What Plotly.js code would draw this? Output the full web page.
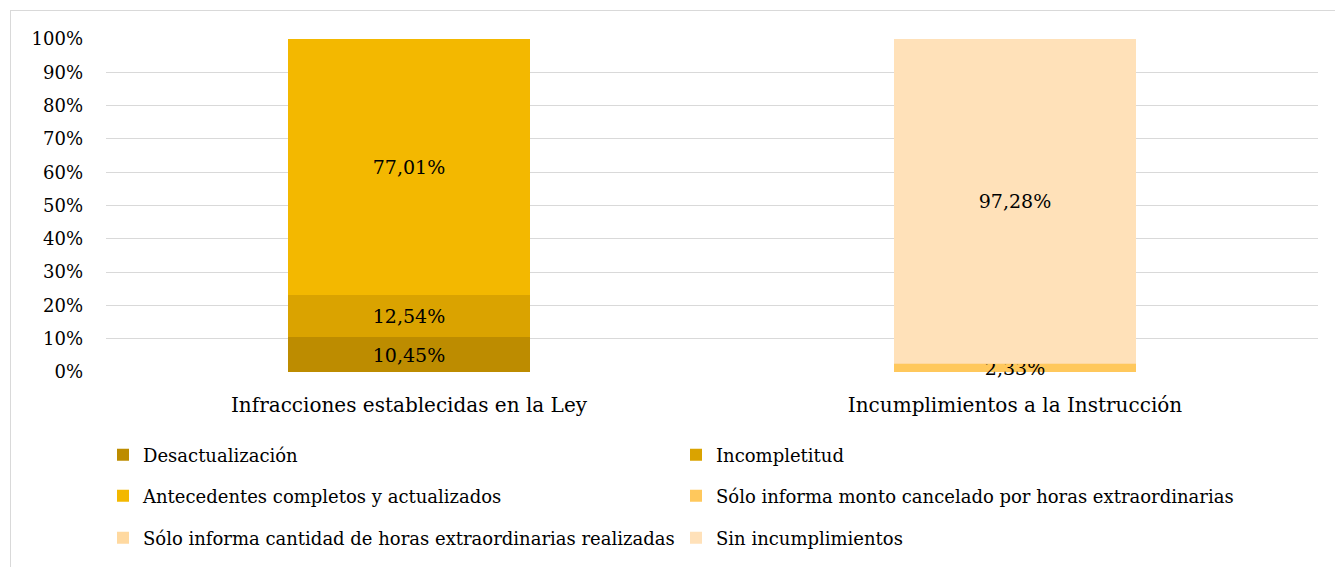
<!DOCTYPE html>
<html>
<head>
<meta charset="utf-8">
<script src="https://cdn.plot.ly/plotly-3.0.1.min.js"></script>
<style>
html,body{margin:0;padding:0;background:#fff;overflow:hidden;}
#wrap{position:relative;width:1335px;height:567px;}
#chart{position:absolute;left:0;top:0;width:1335px;height:567px;}
#frame{position:absolute;left:10px;top:10px;width:1340px;height:600px;border:1px solid #d9d9d9;pointer-events:none;}
</style>
</head>
<body>
<div id="wrap"><div id="chart"></div><div id="frame"></div></div>
<script>
var categories = ["Infracciones establecidas en la Ley", "Incumplimientos a la Instrucción"];
var seriesNames = [
  "Desactualización",
  "Incompletitud",
  "Antecedentes completos y actualizados",
  "Sólo informa monto cancelado por horas extraordinarias",
  "Sólo informa cantidad de horas extraordinarias realizadas",
  "Sin incumplimientos"
];
var desactualizacion = [10.45, null];
var incompletitud = [12.54, null];
var antecedentes = [77.01, null];
var soloMonto = [null, 2.33];
var soloCantidad = [null, 0.39];
var sinIncumplimientos = [null, 97.28];
var showLabel = [true, true, true, true, false, true];
var colors = ["#BD8C00", "#DAA300", "#F3B800", "#FFC85C", "#FFD9A0", "#FFE1B9"];
var yTicks = [0,10,20,30,40,50,60,70,80,90,100];

var allSeries = [desactualizacion, incompletitud, antecedentes, soloMonto, soloCantidad, sinIncumplimientos];
var legendFor = ["legend","legend","legend2","legend2","legend3","legend3"];
var FONT = "DejaVu Serif, Liberation Serif, serif";

function fmt(v){ return v.toFixed(2).replace('.', ',') + '%'; }

var traces = allSeries.map(function(vals, i){
  return {
    type: 'bar',
    name: seriesNames[i],
    x: categories,
    y: vals,
    marker: {color: colors[i], line: {width: 0}},
    text: vals.map(function(v){ return (v === null || !showLabel[i]) ? '' : fmt(v); }),
    textposition: showLabel[i] ? 'inside' : 'none',
    insidetextanchor: 'middle',
    constraintext: 'none',
    textangle: 0,
    textfont: {family: FONT, size: 19, color: '#000'},
    hoverinfo: 'name+y',
    legend: legendFor[i],
    cliponaxis: false
  };
});

function leg(y){
  return {
    orientation: 'h', x: 103/1335, xref: 'container', y: y, yref: 'container',
    xanchor: 'left', yanchor: 'middle',
    entrywidth: 528, entrywidthmode: 'pixels',
    font: {family: FONT, size: 18, color: '#000'},
    bgcolor: 'rgba(0,0,0,0)', traceorder: 'normal', itemclick: false
  };
}

var layout = {
  width: 1335, height: 567,
  margin: {l: 106, r: 17, t: 39, b: 195},
  barmode: 'stack',
  bargap: 0.6,
  paper_bgcolor: 'rgba(0,0,0,0)',
  plot_bgcolor: 'rgba(0,0,0,0)',
  font: {family: FONT, color: '#000'},
  xaxis: {
    tickfont: {family: FONT, size: 20, color: '#000'},
    showgrid: false, zeroline: false, showline: false, ticks: '',
    ticklabelstandoff: 19
  },
  yaxis: {
    range: [0, 100], tickvals: yTicks, ticktext: yTicks.map(function(t){return t + '%';}),
    tickfont: {family: FONT, size: 18, color: '#000'},
    showgrid: true, gridcolor: '#d9d9d9', gridwidth: 1, zeroline: false, showline: false,
    ticks: '', ticklabelstandoff: 22
  },
  showlegend: true,
  legend: leg(1 - 455/567),
  legend2: leg(1 - 496/567),
  legend3: leg(1 - 538/567)
};

Plotly.newPlot('chart', traces, layout, {staticPlot: true, displayModeBar: false});
</script>
</body>
</html>
